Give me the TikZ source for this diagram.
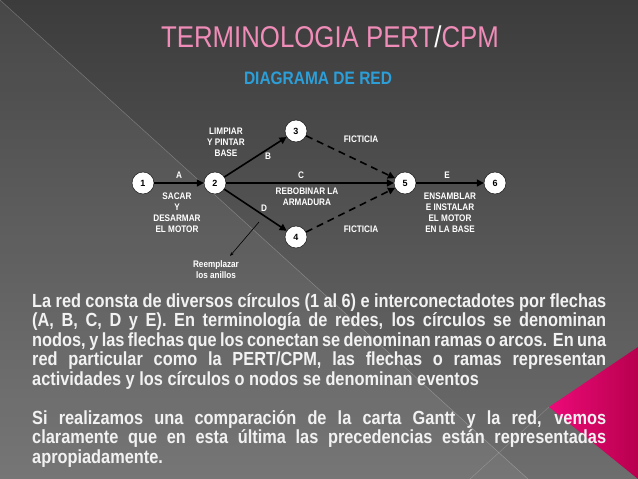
\documentclass[tikz,border=0pt]{standalone}
\usepackage{fontspec}
\setmainfont{Liberation Sans}
\newfontfamily\angosta[FakeStretch=0.86]{Liberation Sans}
\usetikzlibrary{arrows.meta}
\definecolor{bgtop}{HTML}{3C3C3C}
\definecolor{bgbottom}{HTML}{6E6E6E}
\definecolor{titlepink}{HTML}{F08CB8}
\definecolor{subblue}{HTML}{2C9FD9}
\definecolor{textogris}{HTML}{F2F2F2}
\definecolor{rosa}{HTML}{EC0A78}
\definecolor{rosaosc}{HTML}{B8004E}
\tikzset{
  evento/.style={circle,draw=black,fill=white,minimum size=22pt,inner sep=0pt,font=\fontsize{9}{9}\selectfont\bfseries},
  rama/.style={line width=1.6pt,-{Triangle[length=7pt,width=7pt]}},
  ficticia/.style={rama,dashed,dash pattern=on 7pt off 5pt},
  etiq/.style={font=\angosta\fontsize{9.5}{11}\selectfont\bfseries,text=white,align=center,inner sep=0pt}
}
\begin{document}
\begin{tikzpicture}[x=1pt,y=-1pt]
\useasboundingbox (0,0) rectangle (638,479);
% fondo
\shade[top color=bgtop,bottom color=bgbottom] (0,0) rectangle (638,479);
\fill[white,opacity=0.06] (0,0) -- (528,479) -- (0,479) -- cycle;
\draw[white,opacity=0.25,line width=0.5pt] (0,0) -- (528,479);
\shade[left color=rosa,right color=rosaosc] (638,347) -- (549,407) -- (638,479) -- cycle;
\draw[white,opacity=0.2,line width=0.5pt] (549,407) -- (470,479);
% titulos
\node[font=\angosta\fontsize{30}{30}\selectfont,text=titlepink] (titulo) at (330,37) {TERMINOLOGIA PERT\textcolor{white}{/}CPM};
\node[font=\angosta\fontsize{18}{18}\selectfont\bfseries,text=subblue] (subtitulo) at (318,78) {DIAGRAMA DE RED};
% eventos
\node[evento] (n1) at (143,183) {1};
\node[evento] (n2) at (215,183) {2};
\node[evento] (n3) at (296,131) {3};
\node[evento] (n4) at (296,237) {4};
\node[evento] (n5) at (405,183) {5};
\node[evento] (n6) at (495,183) {6};
% ramas
\draw[rama] (n1) -- (n2);
\draw[rama] (n2) -- (n3);
\draw[rama] (n2) -- (n5);
\draw[rama] (n2) -- (n4);
\draw[rama] (n5) -- (n6);
\draw[ficticia] (n3) -- (n5);
\draw[ficticia] (n4) -- (n5);
% etiquetas
\node[etiq] (la) at (179,175) {A};
\node[etiq] (ta) at (177,213) {SACAR\\Y\\DESARMAR\\EL MOTOR};
\node[etiq] (tb) at (226,142) {LIMPIAR\\Y PINTAR\\BASE};
\node[etiq] (lb) at (268,156) {B};
\node[etiq] (lc) at (301,175) {C};
\node[etiq] (tc) at (307,197) {REBOBINAR LA\\ARMADURA};
\node[etiq] (ld) at (264,208) {D};
\node[etiq] (f1) at (361,139) {FICTICIA};
\node[etiq] (f2) at (361,229) {FICTICIA};
\node[etiq] (le) at (447,175) {E};
\node[etiq] (te) at (450,213) {ENSAMBLAR\\E INSTALAR\\EL MOTOR\\EN LA BASE};
\node[etiq] (tr) at (216,270) {Reemplazar\\los anillos};
\coordinate (pd) at (259,222);
\draw[black,line width=0.6pt,-{Stealth[length=4pt]}] (pd) -- (230,256);
% texto
\node[anchor=north west,inner sep=0pt,text width=574pt,align=justify,
  font=\angosta\fontsize{19}{19.5}\selectfont\bfseries,text=textogris] (texto) at (32,293)
{La red consta de diversos círculos (1 al 6) e interconectadotes por flechas\linebreak
(A, B, C, D y E). En terminología de redes, los círculos se denominan\linebreak
nodos, y las flechas que los conectan se denominan ramas o arcos. En una\linebreak
red particular como la PERT/CPM, las flechas o ramas representan\linebreak
actividades y los círculos o nodos se denominan eventos\par\vspace{19.5pt}
Si realizamos una comparación de la carta Gantt y la red, vemos\linebreak
claramente que en esta última las precedencias están representadas\linebreak
apropiadamente.};
\end{tikzpicture}
\end{document}
